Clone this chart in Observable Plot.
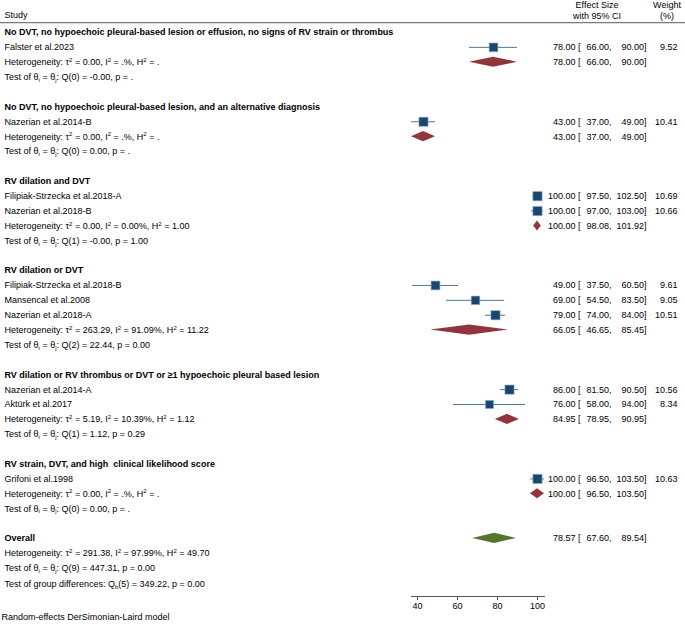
<!DOCTYPE html>
<html><head><meta charset="utf-8">
<script src="https://cdn.jsdelivr.net/npm/d3@7"></script>
<script src="https://cdn.jsdelivr.net/npm/@observablehq/plot@0.6"></script>
<style>
body{margin:0;background:#fff}
#chart svg text{white-space:pre}
</style>
</head><body><div id="chart"></div>
<script>
// ---------- data ----------
const groupTitles = [
  "No DVT, no hypoechoic pleural-based lesion or effusion, no signs of RV strain or thrombus",
  "No DVT, no hypoechoic pleural-based lesion, and an alternative diagnosis",
  "RV dilation and DVT",
  "RV dilation or DVT",
  "RV dilation or RV thrombus or DVT or \u22651 hypoechoic pleural based lesion",
  "RV strain, DVT, and high  clinical likelihood score"
];
const groupES = [78.00, 43.00, 100.00, 66.05, 84.95, 100.00];
const groupLo = [66.00, 37.00, 98.08, 46.65, 78.95, 96.50];
const groupHi = [90.00, 49.00, 101.92, 85.45, 90.95, 103.50];
const groupHet = [
  "Heterogeneity: \u03c4^{2} = 0.00, I^{2} = .%, H^{2} = .",
  "Heterogeneity: \u03c4^{2} = 0.00, I^{2} = .%, H^{2} = .",
  "Heterogeneity: \u03c4^{2} = 0.00, I^{2} = 0.00%, H^{2} = 1.00",
  "Heterogeneity: \u03c4^{2} = 263.29, I^{2} = 91.09%, H^{2} = 11.22",
  "Heterogeneity: \u03c4^{2} = 5.19, I^{2} = 10.39%, H^{2} = 1.12",
  "Heterogeneity: \u03c4^{2} = 0.00, I^{2} = .%, H^{2} = ."
];
const groupTest = [
  "Test of \u03b8_{i} = \u03b8_{j}: Q(0) = -0.00, p = .",
  "Test of \u03b8_{i} = \u03b8_{j}: Q(0) = 0.00, p = .",
  "Test of \u03b8_{i} = \u03b8_{j}: Q(1) = -0.00, p = 1.00",
  "Test of \u03b8_{i} = \u03b8_{j}: Q(2) = 22.44, p = 0.00",
  "Test of \u03b8_{i} = \u03b8_{j}: Q(1) = 1.12, p = 0.29",
  "Test of \u03b8_{i} = \u03b8_{j}: Q(0) = 0.00, p = ."
];
const studyNames = [
  "Falster et al.2023", "Nazerian et al.2014-B", "Filipiak-Strzecka et al.2018-A",
  "Nazerian et al.2018-B", "Filipiak-Strzecka et al.2018-B", "Mansencal et al.2008",
  "Nazerian et al.2018-A", "Nazerian et al.2014-A", "Akt\u00fcrk et al.2017", "Grifoni et al.1998"
];
const studyGroup  = [0, 1, 2, 2, 3, 3, 3, 4, 4, 5];
const studyES     = [78, 43, 100, 100, 49, 69, 79, 86, 76, 100];
const studyLo     = [66, 37, 97.5, 97, 37.5, 54.5, 74, 81.5, 58, 96.5];
const studyHi     = [90, 49, 102.5, 103, 60.5, 83.5, 84, 90.5, 94, 103.5];
const studyWeight = [9.52, 10.41, 10.69, 10.66, 9.61, 9.05, 10.51, 10.56, 8.34, 10.63];
const overallTitle = "Overall";
const overallES = 78.57, overallLo = 67.60, overallHi = 89.54;
const overallHet = "Heterogeneity: \u03c4^{2} = 291.38, I^{2} = 97.99%, H^{2} = 49.70";
const overallTest = "Test of \u03b8_{i} = \u03b8_{j}: Q(9) = 447.31, p = 0.00";
const groupDiff = "Test of group differences: Q_{b}(5) = 349.22, p = 0.00";
const footnote = "Random-effects DerSimonian-Laird model";
const xTicks = [40, 60, 80, 100];

// ---------- build rows ----------
const boldRows = [], plainRows = [], studies = [], summaries = [];
let r = 0;
groupTitles.forEach((t, g) => {
  boldRows.push({row: r, text: t});
  let k = r + 1;
  studyNames.forEach((n, i) => {
    if (studyGroup[i] !== g) return;
    plainRows.push({row: k, text: n});
    studies.push({row: k, es: studyES[i], lo: studyLo[i], hi: studyHi[i], w: studyWeight[i]});
    k++;
  });
  plainRows.push({row: k, text: groupHet[g]});
  summaries.push({id: "g" + g, row: k, es: groupES[g], lo: groupLo[g], hi: groupHi[g], color: "#90353b"});
  plainRows.push({row: k + 1, text: groupTest[g]});
  r = k + 3;
});
boldRows.push({row: r, text: overallTitle});
summaries.push({id: "overall", row: r, es: overallES, lo: overallLo, hi: overallHi, color: "#55752f"});
plainRows.push({row: r + 1, text: overallHet});
plainRows.push({row: r + 2, text: overallTest});
plainRows.push({row: r + 3.1, text: groupDiff});
const lastRow = r;

const h = 0.34;
const diamondPts = summaries.flatMap(s => [
  {id: s.id, color: s.color, x: s.lo, y1: s.row, y2: s.row},
  {id: s.id, color: s.color, x: s.es, y1: s.row - h, y2: s.row + h},
  {id: s.id, color: s.color, x: s.hi, y1: s.row, y2: s.row}
]);
const f2 = d => d.toFixed(2);
const numRows = [
  ...studies.map(s => ({row: s.row, es: s.es, lo: s.lo, hi: s.hi, w: f2(s.w)})),
  ...summaries.map(s => ({row: s.row, es: s.es, lo: s.lo, hi: s.hi, w: ""}))
];

const W = 685, H = 624;
const mL = 411, mR = 141, mB = 28;
const rowPx = 14.88;
const txt = "#000";

const headerRule = (index, scales, values, dims) => {
  const l = document.createElementNS("http://www.w3.org/2000/svg", "line");
  const y = scales.y(-0.63);
  l.setAttribute("x1", 0); l.setAttribute("x2", dims.width);
  l.setAttribute("y1", y); l.setAttribute("y2", y);
  l.setAttribute("stroke", "#7a7a7a"); l.setAttribute("stroke-width", 1.4);
  return l;
};

const chart = Plot.plot({
  width: W, height: H,
  marginLeft: mL, marginRight: mR, marginTop: 0, marginBottom: mB,
  style: {fontFamily: "'Liberation Sans', Arial, Helvetica, sans-serif", fontSize: "9px", background: "#fff"},
  x: {domain: [37, 103.5]},
  y: {domain: [0, lastRow], range: [32, 32 + lastRow * rowPx], axis: null},
  r: {domain: [0, 10.69], range: [0, 5.25]},
  marks: [
    headerRule,
    Plot.frame({anchor: "bottom", stroke: "#555", strokeWidth: 1}),
    Plot.axisX({ticks: xTicks, tickSize: 4, tickPadding: 2, stroke: "#555", fill: txt, fontSize: 9}),
    Plot.ruleY(studies, {y: "row", x1: "lo", x2: "hi", stroke: "#1a476f", strokeOpacity: 0.75, strokeWidth: 1}),
    Plot.dot(studies, {x: "es", y: "row", r: "w", symbol: "square", fill: "#1a476f", stroke: "#9fb3c8", strokeWidth: 0.6}),
    Plot.areaY(diamondPts, {x: "x", y1: "y1", y2: "y2", z: "id", fill: "color"}),
    // headers
    Plot.text(["Study"], {frameAnchor: "top-left", lineAnchor: "middle", dx: -407, dy: 15, textAnchor: "start", fill: txt}),
    Plot.text(["Effect Size"], {frameAnchor: "top-right", lineAnchor: "middle", dx: 52.5, dy: 4.5, textAnchor: "middle", fill: txt}),
    Plot.text(["with 95% CI"], {frameAnchor: "top-right", lineAnchor: "middle", dx: 52.5, dy: 15.5, textAnchor: "middle", fill: txt}),
    Plot.text(["Weight"], {frameAnchor: "top-right", lineAnchor: "middle", dx: 122.5, dy: 4.5, textAnchor: "middle", fill: txt}),
    Plot.text(["(%)"], {frameAnchor: "top-right", lineAnchor: "middle", dx: 122.5, dy: 15.5, textAnchor: "middle", fill: txt}),
    // left column
    Plot.text(boldRows, {y: "row", text: "text", frameAnchor: "left", dx: -407, textAnchor: "start", fontWeight: "bold", fill: txt}),
    Plot.text(plainRows, {y: "row", text: "text", frameAnchor: "left", dx: -407, textAnchor: "start", fill: txt}),
    // numeric columns
    Plot.text(numRows, {y: "row", text: d => f2(d.es) + " [", frameAnchor: "right", dx: 36, textAnchor: "end", fill: txt}),
    Plot.text(numRows, {y: "row", text: d => f2(d.lo) + ",", frameAnchor: "right", dx: 67, textAnchor: "end", fill: txt}),
    Plot.text(numRows, {y: "row", text: d => f2(d.hi) + "]", frameAnchor: "right", dx: 102, textAnchor: "end", fill: txt}),
    Plot.text(numRows, {y: "row", text: "w", frameAnchor: "right", dx: 133, textAnchor: "end", fill: txt}),
    // footnote
    Plot.text([footnote], {frameAnchor: "bottom-left", lineAnchor: "middle", dx: -410, dy: 21, textAnchor: "start", fill: txt})
  ]
});

// rich text: ^{..} superscript, _{..} subscript
d3.select(chart).selectAll("text").each(function() {
  const el = this;
  if (el.childElementCount) return;
  const s = el.textContent;
  if (!/[\^_]\{/.test(s)) return;
  el.textContent = "";
  let shift = 0;
  for (const p of s.split(/(\^\{[^}]*\}|_\{[^}]*\})/)) {
    if (!p) continue;
    const t = document.createElementNS("http://www.w3.org/2000/svg", "tspan");
    let target = 0, str = p, small = false;
    if (p.startsWith("^{")) { target = -3.2; str = p.slice(2, -1); small = true; }
    else if (p.startsWith("_{")) { target = 1.8; str = p.slice(2, -1); small = true; }
    const d = target - shift;
    if (d) t.setAttribute("dy", d);
    shift = target;
    if (small) t.setAttribute("font-size", "6");
    t.textContent = str;
    el.appendChild(t);
  }
});
document.getElementById("chart").appendChild(chart);
</script>
</body></html>
